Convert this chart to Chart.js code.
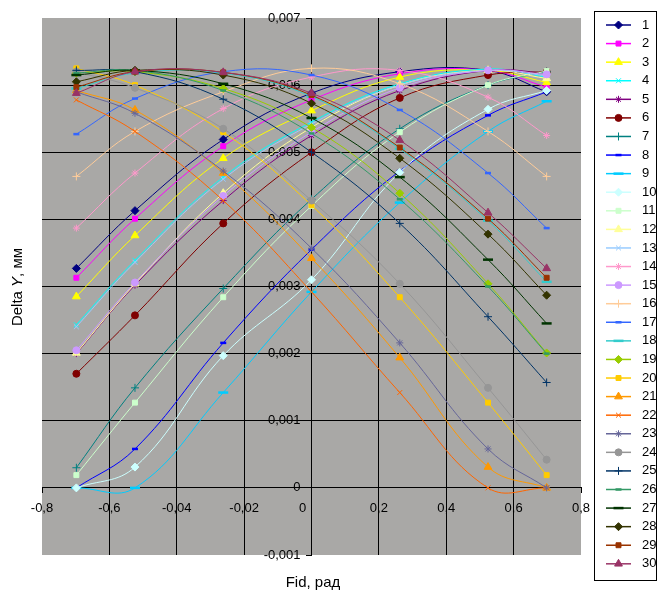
<!DOCTYPE html>
<html>
<head>
<meta charset="utf-8">
<script src="https://cdn.jsdelivr.net/npm/chart.js"></script>
<style>
  body { margin: 0; background: #fff; }
</style>
</head>
<body>
<div style="height:594px;width:658px;">
  <canvas id="myChart"></canvas>
</div>

<script>
// Fid, rad  (±40°, ±30°, ±15°, 0)
const fid = [-0.698, -0.524, -0.262, 0, 0.262, 0.524, 0.698];
const xTickLabels = ['-0,8', '-0,6', '-0,04', '-0,02', '0', '0,2', '0,4', '0,6', '0,8'];
const yTickLabels = ['-0,001', '0', '0,001', '0,002', '0,003', '0,004', '0,005', '0,006', '0,007'];

// Delta Y, in thousandths of a mm
const s1  = [3.27, 4.13, 5.19, 5.88, 6.20, 6.22, 5.90];
const s2  = [3.13, 4.01, 5.09, 5.78, 6.17, 6.22, 5.97];
const s3  = [2.85, 3.76, 4.91, 5.62, 6.12, 6.22, 6.04];
const s4  = [2.43, 3.39, 4.63, 5.45, 6.02, 6.24, 6.12];
const s5  = [2.00, 3.02, 4.28, 5.25, 5.92, 6.22, 6.18];
const s6  = [1.70, 2.57, 3.94, 5.00, 5.81, 6.15, 6.20];
const s7  = [0.30, 1.49, 2.97, 4.30, 5.35, 6.00, 6.20];
const s8  = [0.00, 0.58, 2.16, 3.55, 4.72, 5.55, 5.90];
const s9  = [0.00, 0.00, 1.42, 2.92, 4.25, 5.31, 5.76];
const s10 = [0.00, 0.31, 1.97, 3.10, 4.70, 5.64, 5.92];
const s11 = [0.19, 1.27, 2.84, 4.20, 5.30, 6.00, 6.21];
const s12 = [2.01, 3.04, 4.39, 5.37, 6.00, 6.22, 6.10];
const s13 = [2.40, 3.36, 4.60, 5.42, 6.00, 6.22, 6.14];
const s14 = [3.87, 4.69, 5.65, 6.12, 6.22, 5.82, 5.25];
const s15 = [2.05, 3.06, 4.35, 5.30, 5.96, 6.22, 6.16];
const s16 = [4.64, 5.31, 5.90, 6.25, 6.02, 5.31, 4.64];
const s17 = [5.27, 5.80, 6.20, 6.15, 5.63, 4.69, 3.87];
const s18 = [5.95, 6.18, 6.18, 5.83, 5.05, 3.98, 3.07];
const s19 = [6.18, 6.20, 5.95, 5.37, 4.39, 3.04, 2.01];
const s20 = [6.25, 6.00, 5.30, 4.21, 2.84, 1.27, 0.19];
const s21 = [5.92, 5.63, 4.69, 3.42, 1.94, 0.31, 0.00];
const s22 = [5.78, 5.31, 4.28, 2.92, 1.42, 0.00, 0.00];
const s23 = [5.90, 5.58, 4.72, 3.57, 2.16, 0.58, 0.00];
const s24 = [6.20, 5.96, 5.35, 4.28, 3.04, 1.49, 0.42];
const s25 = [6.22, 6.20, 5.79, 5.00, 3.94, 2.55, 1.57];
const s26 = [6.18, 6.22, 5.92, 5.28, 4.30, 3.00, 2.00];
const s27 = [6.15, 6.22, 6.02, 5.51, 4.63, 3.40, 2.45];
const s28 = [6.05, 6.22, 6.15, 5.73, 4.91, 3.78, 2.87];
const s29 = [5.97, 6.20, 6.19, 5.85, 5.07, 4.01, 3.13];
const s30 = [5.88, 6.20, 6.19, 5.88, 5.18, 4.10, 3.27];

const series = [s1, s2, s3, s4, s5, s6, s7, s8, s9, s10, s11, s12, s13, s14, s15,
                s16, s17, s18, s19, s20, s21, s22, s23, s24, s25, s26, s27, s28, s29, s30];
const names = series.map((s, i) => String(i + 1));

const colors = ['#000080', '#FF00FF', '#FFFF00', '#00FFFF', '#800080', '#800000', '#008080', '#0000FF',
  '#00CCFF', '#CCFFFF', '#CCFFCC', '#FFFF99', '#99CCFF', '#FF99CC', '#CC99FF', '#FFCC99', '#3366FF',
  '#33CCCC', '#99CC00', '#FFCC00', '#FF9900', '#FF6600', '#666699', '#969696', '#003366', '#339966',
  '#003300', '#333300', '#993300', '#993366'];
const markers = ['rectRot', 'rect', 'triangle', 'crossRot', 'star', 'circle', 'cross', 'line', 'line'];
const markerSize = [4, 3.5, 4.5, 3.5, 3.5, 3.5, 4, 3, 5];

const datasets = series.map((vals, i) => ({
  label: names[i],
  data: vals.map((v, j) => ({ x: fid[j], y: v / 1000 })),
  borderColor: colors[i],
  backgroundColor: colors[i],
  borderWidth: 1,
  pointStyle: markers[i % 9],
  pointRadius: markerSize[i % 9],
  pointBorderWidth: (i % 9) > 6 ? 2.5 : 1,
  pointBackgroundColor: colors[i],
  pointBorderColor: colors[i],
  tension: 0.4,
  order: 30 - i
}));

const font = '"Liberation Sans", Arial, sans-serif';

const plotBg = {
  id: 'plotBg',
  beforeDraw(chart) {
    const a = chart.chartArea, ctx = chart.ctx;
    ctx.save();
    ctx.fillStyle = '#a9a8a6';
    ctx.fillRect(a.left, a.top, a.right - a.left, a.bottom - a.top);
    ctx.restore();
  }
};

// tick labels drawn by hand so they sit off the crossing axes like Excel does
const axisLabels = {
  id: 'axisLabels',
  beforeDatasetsDraw(chart) {
    const ctx = chart.ctx, xs = chart.scales.x, ys = chart.scales.y;
    const x0 = xs.getPixelForValue(0), y0 = ys.getPixelForValue(0);
    ctx.save();
    ctx.fillStyle = '#000';
    ctx.font = '13px ' + font;
    ctx.textBaseline = 'middle';
    ctx.textAlign = 'right';
    ys.ticks.forEach((t, i) => ctx.fillText(yTickLabels[i], x0 - 11, ys.getPixelForValue(t.value)));
    ctx.textAlign = 'center';
    xs.ticks.forEach((t, i) => {
      const shift = Math.abs(t.value) < 1e-9 ? -9 : 0;
      ctx.fillText(xTickLabels[i], xs.getPixelForValue(t.value) + shift, y0 + 21);
    });
    ctx.restore();
  }
};

const titles = {
  id: 'titles',
  afterDraw(chart) {
    const ctx = chart.ctx;
    ctx.save();
    ctx.fillStyle = '#000';
    ctx.textBaseline = 'middle';
    ctx.font = '15px ' + font;
    ctx.textAlign = 'center';
    ctx.fillText('Fid, рад', 313, 583);

    ctx.translate(18, 287);
    ctx.rotate(-Math.PI / 2);
    const parts = [['Delta ', 'normal'], ['Y', 'italic'], [', мм', 'normal']];
    let total = 0;
    parts.forEach(p => { ctx.font = p[1] + ' 15px ' + font; total += ctx.measureText(p[0]).width; });
    let x = -total / 2;
    ctx.textAlign = 'left';
    parts.forEach(p => {
      ctx.font = p[1] + ' 15px ' + font;
      ctx.fillText(p[0], x, 0);
      x += ctx.measureText(p[0]).width;
    });
    ctx.restore();
  }
};

const legendBox = {
  id: 'legendBox',
  afterDraw(chart) {
    const ctx = chart.ctx;
    ctx.save();
    ctx.strokeStyle = '#000';
    ctx.lineWidth = 1;
    ctx.strokeRect(594.5, 11.5, 62, 569);
    chart.data.datasets.forEach((ds, i) => {
      const y = 25 + i * 18.58;
      ctx.strokeStyle = ds.borderColor;
      ctx.lineWidth = 1.5;
      ctx.beginPath();
      ctx.moveTo(606, y);
      ctx.lineTo(631, y);
      ctx.stroke();
      ctx.fillStyle = ds.backgroundColor;
      ctx.lineWidth = ds.pointBorderWidth;
      Chart.helpers.drawPoint(ctx, {
        pointStyle: ds.pointStyle, radius: ds.pointRadius, rotation: 0, borderWidth: ds.pointBorderWidth
      }, 618.5, y);
      ctx.fillStyle = '#000';
      ctx.font = '13px ' + font;
      ctx.textAlign = 'left';
      ctx.textBaseline = 'middle';
      ctx.fillText(ds.label, 642, y);
    });
    ctx.restore();
  }
};

const edge = (v, a, b) => Math.abs(v - a) < 1e-9 || Math.abs(v - b) < 1e-9;

const config = {
  type: 'line',
  data: { datasets: datasets },
  options: {
    responsive: true,
    maintainAspectRatio: false,
    animation: false,
    layout: { padding: { left: 42, right: 77, top: 18, bottom: 39 } },
    plugins: { legend: { display: false }, tooltip: { enabled: false } },
    scales: {
      x: {
        type: 'linear',
        min: -0.8, max: 0.8,
        position: { y: 0 },
        ticks: { stepSize: 0.2, display: false },
        grid: {
          color: c => (c.tick && edge(c.tick.value, -0.8, 0.8)) ? 'rgba(0,0,0,0)' : '#000',
          tickColor: '#000',
          tickLength: 5,
          lineWidth: 1
        },
        border: { color: '#000', width: 1 }
      },
      y: {
        min: -0.001, max: 0.007,
        position: { x: 0 },
        ticks: { stepSize: 0.001, display: false },
        grid: {
          color: c => (c.tick && edge(c.tick.value, -0.001, 0.007)) ? 'rgba(0,0,0,0)' : '#000',
          tickColor: '#000',
          tickLength: 5,
          lineWidth: 1
        },
        border: { color: '#000', width: 1 }
      }
    }
  },
  plugins: [plotBg, axisLabels, titles, legendBox]
};

var myChart = new Chart(document.getElementById('myChart'), config);
</script>
</body>
</html>
